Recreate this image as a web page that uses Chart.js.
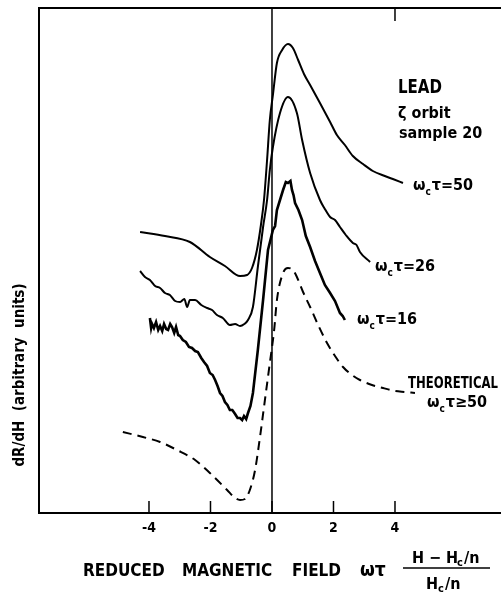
<!DOCTYPE html>
<html><head><meta charset="utf-8">
<script src="https://cdn.jsdelivr.net/npm/chart.js@4.4.0/dist/chart.umd.min.js"></script>
<style>html,body{margin:0;padding:0;background:#fff}#wrap{width:502px;height:595px;position:relative}</style>
</head><body><div id="wrap"><canvas id="c" width="502" height="595"></canvas></div>
<script>
// x tick labels
const tickValues = [-4, -2, 0, 2, 4];
// omega_c tau = 50
const x50 = [-4.29,-3.48,-2.67,-2.02,-1.53,-1.04,-0.81,-0.65,-0.49,-0.36,-0.26,-0.16,-0.07,0.03,0.16,0.33,0.52,0.68,0.85,1.04,1.24,1.56,1.89,2.11,2.37,2.63,2.96,3.28,3.67,3.93,4.26];
const y50 = [56.2,55.4,54.2,51.2,49.4,47.4,47.6,49.0,52.6,57.6,62.6,70.6,78.6,83.6,90.0,92.6,93.8,93.0,90.6,87.8,85.6,82.0,78.2,75.6,73.6,71.4,69.8,68.4,67.4,66.8,66.0];
// omega_c tau = 26
const x26 = [-4.29,-4.13,-3.97,-3.80,-3.64,-3.48,-3.32,-3.15,-2.99,-2.85,-2.76,-2.67,-2.50,-2.30,-2.11,-1.95,-1.79,-1.60,-1.37,-1.20,-1.04,-0.90,-0.78,-0.62,-0.46,-0.29,-0.16,-0.07,0.03,0.26,0.52,0.81,0.98,1.24,1.56,1.70,1.89,2.05,2.21,2.40,2.63,2.75,2.86,3.19];
const y26 = [48.4,47.2,46.6,45.4,45.0,44.0,43.6,42.4,42.2,42.8,41.2,42.6,42.6,41.6,41.0,40.6,39.6,39.0,37.6,37.8,37.4,37.8,38.6,41.2,49.2,57.2,62.6,68.6,73.2,80.0,83.2,80.0,74.6,68.0,62.6,61.0,59.2,58.6,57.2,55.6,54.0,53.6,52.2,50.2];
// omega_c tau = 16 (noisy trace)
const x16 = [-3.97,-3.93,-3.90,-3.84,-3.77,-3.70,-3.64,-3.57,-3.51,-3.44,-3.38,-3.31,-3.25,-3.18,-3.12,-3.05,-2.99,-2.90,-2.80,-2.70,-2.60,-2.50,-2.41,-2.30,-2.21,-2.11,-2.02,-1.93,-1.85,-1.77,-1.69,-1.61,-1.53,-1.45,-1.37,-1.29,-1.20,-1.12,-1.04,-0.97,-0.91,-0.84,-0.78,-0.70,-0.62,-0.46,-0.29,-0.13,0.03,0.10,0.16,0.26,0.36,0.45,0.52,0.60,0.65,0.70,0.75,0.86,0.98,1.10,1.24,1.40,1.56,1.72,1.89,2.05,2.21,2.30,2.37];
const y16 = [39.0,37.0,37.8,37.0,38.2,36.6,37.4,36.4,37.8,36.8,36.6,37.8,37.2,36.0,37.2,35.6,35.4,34.6,34.2,33.2,33.0,32.4,32.2,31.0,30.2,29.4,28.0,27.6,26.6,25.4,24.0,23.4,22.2,21.6,20.6,20.6,19.8,19.0,19.0,18.6,19.4,18.8,20.0,21.4,24.0,32.6,42.6,52.6,56.6,57.4,60.6,62.6,64.6,66.2,66.0,66.4,64.6,63.6,62.0,60.6,58.6,55.4,53.2,50.4,48.0,45.6,44.0,42.4,40.0,39.4,38.6];
// theoretical, omega_c tau >= 50
const xTh = [-4.85,-4.20,-3.64,-3.09,-2.50,-2.02,-1.46,-1.20,-1.04,-0.88,-0.72,-0.55,-0.39,-0.23,-0.07,0.07,0.16,0.36,0.52,0.68,0.81,1.01,1.24,1.50,1.79,2.05,2.31,2.60,2.86,3.25,3.61,4.00,4.33,4.65];
const yTh = [16.2,15.2,14.2,12.6,10.6,8.0,4.6,3.0,2.6,2.8,4.6,8.6,15.2,22.6,30.0,36.6,42.6,48.0,49.0,48.6,47.2,44.2,41.2,37.6,34.0,31.4,29.2,27.6,26.6,25.6,25.0,24.4,24.2,24.0];

const pts = (xs, ys) => xs.map((x, i) => ({x, y: ys[i]}));
const FONT = '"DejaVu Sans Condensed","DejaVu Sans",sans-serif';

function fitText(ctx, text, x, y, width) {
  const w = ctx.measureText(text).width;
  const s = Math.min(1, width / w);
  ctx.save(); ctx.translate(x, y); ctx.scale(s, 1); ctx.fillText(text, 0, 0); ctx.restore();
}

function wct(ctx, x, y, rest, size) {
  ctx.font = `bold ${size}px ${FONT}`;
  ctx.fillText('ω', x, y);
  let w = ctx.measureText('ω').width;
  ctx.font = `bold ${Math.round(size*0.6)}px ${FONT}`;
  ctx.fillText('c', x + w, y + size*0.3);
  let w2 = ctx.measureText('c').width;
  ctx.font = `bold ${size}px ${FONT}`;
  ctx.fillText(rest, x + w + w2 + 1, y);
}

const deco = {
  id: 'deco',
  afterDraw(chart) {
    const ctx = chart.ctx, xs = chart.scales.x, ca = chart.chartArea;
    ctx.save();
    ctx.strokeStyle = '#000'; ctx.lineWidth = 1.5;
    tickValues.forEach(v => {
      const px = xs.getPixelForValue(v);
      ctx.beginPath(); ctx.moveTo(px, ca.bottom); ctx.lineTo(px, ca.bottom - 12); ctx.stroke();
    });
    const p4 = xs.getPixelForValue(4);
    ctx.beginPath(); ctx.moveTo(p4, ca.top); ctx.lineTo(p4, ca.top + 13); ctx.stroke();
    const p0 = xs.getPixelForValue(0);
    ctx.beginPath(); ctx.moveTo(p0, ca.top); ctx.lineTo(p0, ca.bottom); ctx.stroke();

    ctx.fillStyle = '#000';
    ctx.textBaseline = 'alphabetic';
    ctx.textAlign = 'left';
    ctx.font = `bold 19px ${FONT}`;
    fitText(ctx, 'LEAD', 398, 93, 44);
    ctx.font = `bold 16px ${FONT}`;
    ctx.fillText('ζ orbit', 398, 118);
    ctx.fillText('sample 20', 399, 138);
    wct(ctx, 413, 190, 'τ=50', 16);
    wct(ctx, 375, 271, 'τ=26', 16);
    wct(ctx, 357, 324, 'τ=16', 16);
    ctx.font = `bold 15px ${FONT}`;
    fitText(ctx, 'THEORETICAL', 408, 388, 90);
    wct(ctx, 427, 407, 'τ≥50', 16);

    ctx.save();
    ctx.translate(24, 375);
    ctx.rotate(-Math.PI/2);
    ctx.textAlign = 'center';
    ctx.font = `bold 15px ${FONT}`;
    ctx.fillText('dR/dH  (arbitrary  units)', 0, 0);
    ctx.restore();

    ctx.font = `bold 17px ${FONT}`;
    ctx.textAlign = 'left';
    ctx.fillText('REDUCED', 83, 576);
    ctx.fillText('MAGNETIC', 182, 576);
    ctx.fillText('FIELD', 292, 576);
    ctx.font = `bold 19px ${FONT}`;
    ctx.fillText('ωτ', 360, 576);
    ctx.font = `bold 16px ${FONT}`;
    ctx.textAlign = 'center';
    ctx.fillText('H − H', 435, 563);
    ctx.fillText('H', 432, 589);
    ctx.lineWidth = 1.5;
    ctx.beginPath(); ctx.moveTo(403, 568); ctx.lineTo(490, 568); ctx.stroke();
    ctx.textAlign = 'left';
    ctx.font = `bold 11px ${FONT}`;
    ctx.fillText('c', 457, 566); ctx.fillText('c', 438, 592);
    ctx.font = `bold 16px ${FONT}`;
    ctx.fillText('/n', 464, 563); ctx.fillText('/n', 445, 589);
    ctx.restore();
  }
};

const common = {pointRadius: 0, borderColor: '#000', fill: false};
new Chart(document.getElementById('c'), {
  type: 'line',
  data: {
    datasets: [
      {...common, data: pts(x50, y50), borderWidth: 2, cubicInterpolationMode: 'monotone'},
      {...common, data: pts(x26, y26), borderWidth: 2, cubicInterpolationMode: 'monotone'},
      {...common, data: pts(x16, y16), borderWidth: 2.6, tension: 0},
      {...common, data: pts(xTh, yTh), borderWidth: 2, cubicInterpolationMode: 'monotone', borderDash: [9, 6]}
    ]
  },
  options: {
    responsive: false, animation: false, devicePixelRatio: 1,
    layout: {padding: {left: 39, right: 2, top: 8, bottom: 0}},
    plugins: {legend: {display: false}, tooltip: {enabled: false}},
    scales: {
      x: {
        type: 'linear', min: -7.577, max: 7.415,
        afterBuildTicks: s => { s.ticks = tickValues.map(v => ({value: v})); },
        afterFit: s => { s.height = 82; },
        grid: {display: false, drawTicks: false},
        border: {display: true, color: '#000', width: 2},
        ticks: {padding: 7, color: '#000', font: {family: FONT, size: 14, weight: 'bold'},
                callback: v => (v < 0 ? '-' + Math.abs(v) : String(v)), maxRotation: 0, autoSkip: false}
      },
      x2: {
        type: 'linear', position: 'top', min: -7.577, max: 7.415,
        afterFit: s => { s.height = 0; },
        grid: {display: false, drawTicks: false},
        border: {display: true, color: '#000', width: 2},
        ticks: {display: false}
      },
      y: {
        min: 0, max: 101,
        afterFit: s => { s.width = 0; },
        grid: {display: false, drawTicks: false},
        border: {display: true, color: '#000', width: 2},
        ticks: {display: false}
      }
    }
  },
  plugins: [deco]
});
</script></body></html>
